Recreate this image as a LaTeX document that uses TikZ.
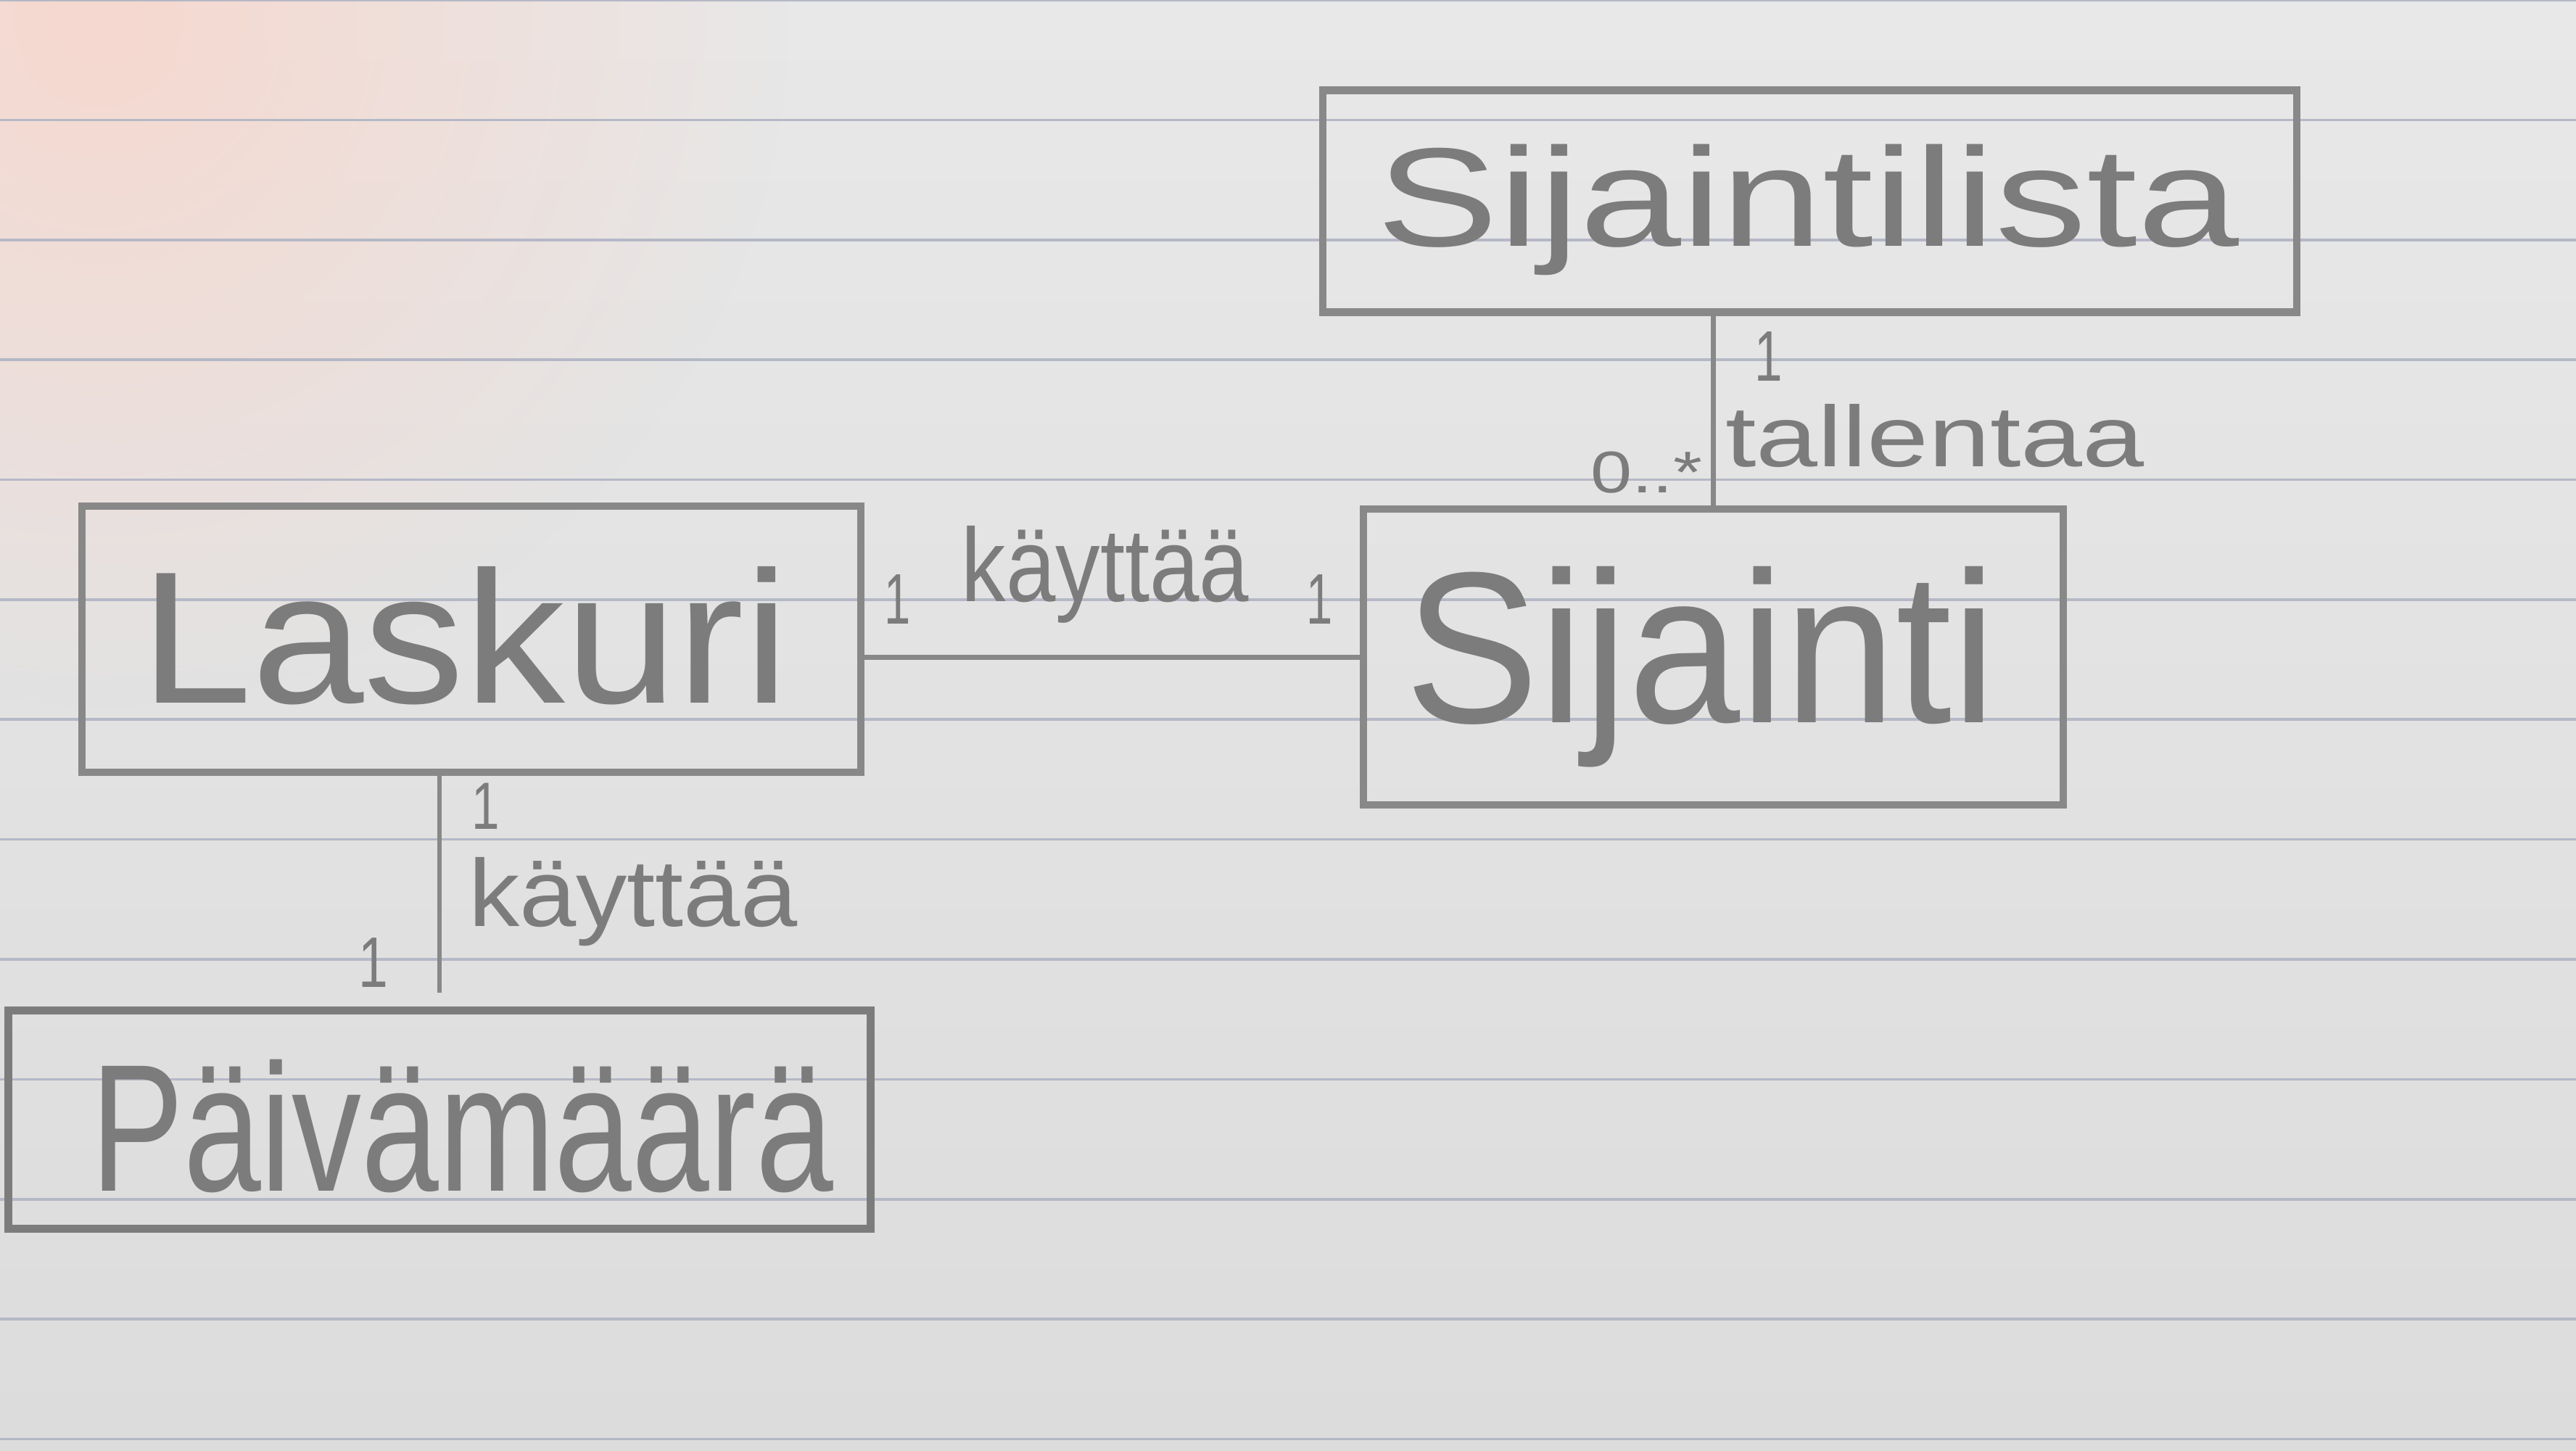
\documentclass[tikz,border=0pt]{standalone}
\usepackage{fontspec}
\usepackage{graphicx}
\usetikzlibrary{fadings}
\setmainfont{Liberation Sans}
\definecolor{paper}{HTML}{E8E8E8}
\definecolor{paperlow}{HTML}{DCDCDC}
\definecolor{pinkish}{HTML}{F6D8CF}
\definecolor{rule}{HTML}{B5B8C6}
\definecolor{pencil}{HTML}{888888}
\definecolor{pencildark}{HTML}{7C7C7C}
\tikzfading[name=pinkfade, inner color=transparent!0, outer color=transparent!100]
\newcommand\handtxt[3]{\resizebox{#1pt}{#2pt}{#3}}
\begin{document}
\begin{tikzpicture}[x=1pt,y=-1pt,
  box/.style={draw=pencil, line width=4.5pt, rectangle, inner sep=0pt},
  wire/.style={draw=pencil, line width=3pt},
  hand/.style={inner sep=0pt, anchor=base west, text=pencildark}]
\useasboundingbox (0,0) rectangle (1568,883);
\shade[top color=paper, bottom color=paperlow] (0,0) rectangle (1568,883);
\fill[pinkish, path fading=pinkfade] (60,10) circle (420);
% ruled lines
\foreach \k in {0,...,12}{
  \draw[rule, line width=1.6pt] (0,{\k*73}) -- (1568,{\k*73});
}
% class boxes
\node[box, minimum width=593pt, minimum height=135pt] (Sijaintilista) at (1101.5,122.5) {};
\node[box, minimum width=474pt, minimum height=162pt] (Laskuri) at (287,389) {};
\node[box, minimum width=426pt, minimum height=180pt] (Sijainti) at (1043,400) {};
\node[box, draw=pencildark, line width=5pt, minimum width=525pt, minimum height=133pt] (Paivamaara) at (267.5,681.5) {};
% class names
\node[hand] (tSL) at (838,150) {\handtxt{524}{62}{Sijaintilista}};
\node[hand] (tL) at (85,428) {\handtxt{395}{83}{Laskuri}};
\node[hand] (tS) at (855,440) {\handtxt{360}{95}{Sijainti}};
\node[hand] (tP) at (55,725) {\handtxt{452}{80}{Päivämäärä}};
% connectors
\draw[wire] (Laskuri.east |- Sijainti.west) -- (Sijainti.west);
\draw[wire] (Sijainti.north |- Sijaintilista.south) -- (Sijainti.north);
\draw[wire] (Paivamaara.north |- Laskuri.south) -- ([yshift=8pt]Paivamaara.north);
% association labels
\node[hand] (m1) at (538,380) {\handtxt{16}{30}{1}};
\node[hand] (k1) at (585,366) {\handtxt{175}{46}{käyttää}};
\node[hand] (m2) at (795,380) {\handtxt{16}{30}{1}};
\node[hand] (m3) at (1068,232) {\handtxt{17}{30}{1}};
\node[hand] (t1) at (1050,284) {\handtxt{255}{38}{tallentaa}};
\node[hand] (m4) at (968,300) {\handtxt{68}{25}{0..*}};
\node[hand] (m5) at (287,505) {\handtxt{17}{28}{1}};
\node[hand] (k2) at (285,564) {\handtxt{200}{42}{käyttää}};
\node[hand] (m6) at (218,601) {\handtxt{18}{30}{1}};
\end{tikzpicture}
\end{document}
